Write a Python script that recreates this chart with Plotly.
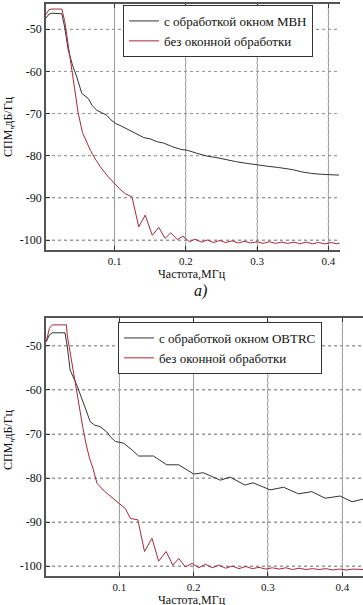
import plotly.graph_objects as go

# ---- Data (a): window MVN ----
fa_win = [0.004, 0.008, 0.012, 0.026, 0.030, 0.035, 0.041, 0.047, 0.054, 0.063, 0.069, 0.075,
          0.082, 0.089, 0.095, 0.101, 0.110, 0.120, 0.130, 0.141, 0.150, 0.160, 0.169, 0.180,
          0.193, 0.202, 0.215, 0.230, 0.245, 0.258, 0.270, 0.285, 0.300, 0.315, 0.330, 0.338,
          0.350, 0.362, 0.376, 0.390, 0.405, 0.415]
pa_win = [-47.3, -46.4, -46.2, -46.3, -49.5, -54.9, -58.5, -61.3, -65.2, -66.4, -68.2, -69.2,
          -69.8, -70.4, -71.5, -72.3, -73.0, -73.9, -74.8, -75.7, -76.0, -76.7, -77.0, -77.8,
          -78.5, -78.7, -79.4, -80.1, -80.5, -81.0, -81.4, -81.8, -82.2, -82.5, -82.8, -83.0,
          -83.3, -83.8, -84.2, -84.4, -84.5, -84.6]

fa_raw = [0.004, 0.008, 0.012, 0.026, 0.030, 0.034, 0.039, 0.044, 0.049, 0.055, 0.060, 0.066,
          0.073, 0.080, 0.090, 0.100, 0.108, 0.115, 0.1245, 0.134, 0.143, 0.153, 0.162, 0.171,
          0.179, 0.188, 0.196, 0.205, 0.213, 0.222, 0.230, 0.239, 0.248, 0.256, 0.265, 0.274,
          0.282, 0.291, 0.300, 0.308, 0.317, 0.326, 0.334, 0.343, 0.352, 0.360, 0.369, 0.378,
          0.386, 0.395, 0.404, 0.412, 0.416]
pa_raw = [-46.5, -45.3, -45.2, -45.2, -48.0, -52.5, -58.9, -64.5, -69.9, -74.5, -76.5, -78.7,
          -80.8, -82.6, -84.8, -86.6, -88.0, -89.0, -89.8, -96.9, -94.1, -98.9, -97.0, -99.6,
          -98.3, -99.9, -99.1, -100.4, -99.8, -100.5, -100.0, -100.6, -100.1, -100.6, -100.2, -100.7,
          -100.3, -100.7, -100.4, -100.8, -100.4, -100.8, -100.5, -100.8, -100.5, -100.9, -100.5, -100.9,
          -100.6, -100.9, -100.6, -100.9, -100.7]

# ---- Data (b): window OBTRC ----
fb_win = [0.002, 0.006, 0.010, 0.027, 0.030, 0.034, 0.043, 0.052, 0.061, 0.067, 0.074, 0.083,
          0.089, 0.095, 0.106, 0.117, 0.126, 0.146, 0.164, 0.180, 0.200, 0.213, 0.236, 0.249,
          0.269, 0.280, 0.303, 0.321, 0.341, 0.359, 0.377, 0.397, 0.413, 0.428]
pb_win = [-49.0, -47.5, -47.0, -47.0, -50.0, -55.5, -58.9, -63.0, -67.2, -68.0, -68.3, -69.5,
          -70.8, -71.7, -72.1, -73.6, -75.0, -75.0, -77.0, -77.0, -79.1, -78.8, -80.5, -79.8,
          -81.6, -81.1, -82.7, -82.1, -83.6, -83.1, -84.6, -84.1, -85.4, -84.8]

fb_raw = [0.002, 0.006, 0.010, 0.029, 0.030, 0.034, 0.038, 0.043, 0.047, 0.051, 0.055, 0.060,
          0.065, 0.070, 0.080, 0.090, 0.100, 0.108, 0.115, 0.125, 0.134, 0.144, 0.153, 0.163,
          0.172, 0.180, 0.189, 0.198, 0.207, 0.216, 0.225, 0.234, 0.243, 0.252, 0.261, 0.270,
          0.279, 0.288, 0.297, 0.306, 0.315, 0.324, 0.333, 0.342, 0.351, 0.360, 0.369, 0.378,
          0.387, 0.396, 0.405, 0.414, 0.428]
pb_raw = [-49.0, -46.0, -45.2, -45.2, -47.5, -51.5, -56.5, -61.0, -64.5, -68.5, -72.0, -75.5,
          -78.0, -81.2, -83.0, -84.5, -85.8, -86.9, -89.2, -89.5, -96.7, -93.7, -98.9, -96.7,
          -99.8, -98.3, -100.2, -99.4, -100.4, -99.6, -100.4, -99.8, -100.5, -100.0, -100.6, -100.1,
          -100.6, -100.3, -100.7, -100.4, -100.7, -100.4, -100.8, -100.5, -100.8, -100.6, -100.8, -100.6,
          -100.9, -100.7, -100.9, -100.7, -100.8]

x_ticks = [0.1, 0.2, 0.3, 0.4]
x_ticktext = ["0.1", "0.2", "0.3", "0.4"]
y_ticks = [-100, -90, -80, -70, -60, -50]
y_ticktext = ["-100", "-90", "-80", "-70", "-60", "-50"]

name_win_a = "с обработкой окном МВН"
name_win_b = "с обработкой окном OBTRC"
name_raw = "без оконной обработки"
ytitle = "СПМ,дБ/Гц"
xtitle = "Частота,МГц"

W, H = 363, 605
BLACK = "#333333"
RED = "#a8283c"
GRID = "#9a9a9a"
FONT = "Liberation Serif, Times New Roman, DejaVu Serif, serif"

fig = go.Figure()
fig.add_trace(go.Scatter(x=fa_win, y=pa_win, mode="lines", name=name_win_a,
                         line=dict(color=BLACK, width=1), xaxis="x", yaxis="y", legend="legend"))
fig.add_trace(go.Scatter(x=fa_raw, y=pa_raw, mode="lines", name=name_raw,
                         line=dict(color=RED, width=1), xaxis="x", yaxis="y", legend="legend"))
fig.add_trace(go.Scatter(x=fb_win, y=pb_win, mode="lines", name=name_win_b,
                         line=dict(color=BLACK, width=1), xaxis="x2", yaxis="y2", legend="legend2"))
fig.add_trace(go.Scatter(x=fb_raw, y=pb_raw, mode="lines", name=name_raw,
                         line=dict(color=RED, width=1), xaxis="x2", yaxis="y2", legend="legend2"))

def px_x(p):
    return p / W

def px_y(p):
    return 1 - p / H

axis_common = dict(showgrid=True, gridcolor=GRID, griddash="dot", gridwidth=1,
                   ticks="inside", ticklen=4, tickcolor="#333", showline=True,
                   linecolor="#555", linewidth=1.5, zeroline=False, automargin=False,
                   tickfont=dict(family=FONT, size=12, color="#111"))

fig.update_layout(
    width=W, height=H, margin=dict(l=0, r=0, t=0, b=0, autoexpand=False),
    paper_bgcolor="white", plot_bgcolor="white",
    font=dict(family=FONT, color="#111"),
    xaxis=dict(domain=[px_x(46), px_x(340)], range=[0.0038, 0.4164], anchor="y",
               tickvals=x_ticks, ticktext=x_ticktext, mirror="ticks", **axis_common),
    yaxis=dict(domain=[px_y(250), px_y(4)], range=[-102.37, -44.0], anchor="x",
               tickvals=y_ticks, ticktext=y_ticktext, **axis_common),
    xaxis2=dict(domain=[px_x(46), 1.0], range=[0.0015, 0.4278], anchor="y2",
                tickvals=x_ticks, ticktext=x_ticktext, mirror="ticks", **axis_common),
    yaxis2=dict(domain=[px_y(576), px_y(318)], range=[-102.27, -43.64], anchor="x2",
                tickvals=y_ticks, ticktext=y_ticktext, **axis_common),
    legend=dict(x=px_x(123), y=px_y(5), xanchor="left", yanchor="top",
                bgcolor="white", bordercolor="#333", borderwidth=1,
                font=dict(family=FONT, size=13, color="#111"), tracegroupgap=0,
                itemwidth=30),
    legend2=dict(x=px_x(118), y=px_y(322), xanchor="left", yanchor="top",
                 bgcolor="white", bordercolor="#333", borderwidth=1,
                 font=dict(family=FONT, size=13, color="#111"), tracegroupgap=0,
                 itemwidth=30),
    showlegend=True,
)
fig.update_xaxes(tickfont=dict(family=FONT, size=11, color="#111"))

# dotted grid lines at the tick values of each subplot (drawn below the curves)
for xa, ya in (("x", "y"), ("x2", "y2")):
    for t in x_ticks:
        fig.add_shape(type="line", xref=xa, yref=ya + " domain", x0=t, x1=t, y0=0, y1=1,
                      line=dict(color=GRID, width=1, dash="dot"), layer="below")
    for t in y_ticks:
        fig.add_shape(type="line", xref=xa + " domain", yref=ya, x0=0, x1=1, y0=t, y1=t,
                      line=dict(color=GRID, width=1, dash="dot"), layer="below")

annots = [
    dict(text=ytitle, x=px_x(8), y=px_y(127), textangle=-90),
    dict(text=ytitle, x=px_x(8), y=px_y(440), textangle=-90),
    dict(text=xtitle, x=px_x(192), y=px_y(274)),
    dict(text=xtitle, x=px_x(192), y=px_y(600)),
]
for a in annots:
    fig.add_annotation(xref="paper", yref="paper", showarrow=False,
                       xanchor="center", yanchor="middle",
                       font=dict(family=FONT, size=12, color="#111"), **a)
fig.add_annotation(xref="paper", yref="paper", showarrow=False, text="<i>а)</i>",
                   x=px_x(200), y=px_y(291), xanchor="center", yanchor="middle",
                   font=dict(family=FONT, size=16, color="#111"))

fig.write_html("out.html",
               config={"displayModeBar": False},
               post_script="document.body.style.margin='0';document.body.style.overflow='hidden';")
